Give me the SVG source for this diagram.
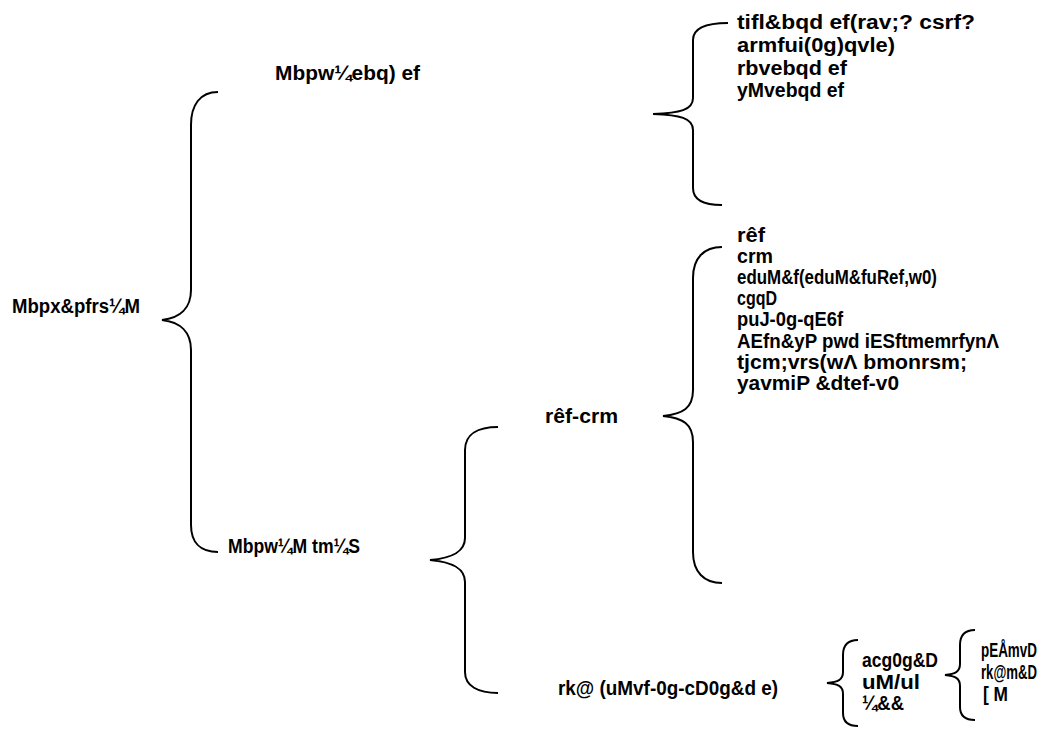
<svg xmlns="http://www.w3.org/2000/svg" width="1047" height="734" viewBox="0 0 1047 734">
<style>
  text { font-family: "Liberation Sans", "DejaVu Sans", sans-serif; font-size: 20px; font-weight: bold; fill: #000; }
  .brace { fill: none; stroke: #000; stroke-width: 2; }
</style>
<rect width="1047" height="734" fill="#fff"/>
<g id="connectors">
  <path class="brace" d="M 218 92 C 200 92 191 105 191 125 L 191 290 C 191 308 180 318 162 320 C 180 322 191 332 191 350 L 191 525 C 191 542 200 552 218 552"/>
  <path class="brace" d="M 498 427 C 478 427 465 434 465 450 L 465 538 C 465 552 452 558 430 560 C 452 562 465 568 465 582 L 465 672 C 465 686 478 693 498 693"/>
  <path class="brace" d="M 728 23 C 705 23 693 28 693 40 L 693 98 C 693 110 680 113 653 114 C 680 115 693 118 693 130 L 693 188 C 693 200 705 205 722 205"/>
  <path class="brace" d="M 722 247 C 704 247 693 258 693 278 L 693 390 C 693 408 683 414 663 416 C 683 418 693 424 693 442 L 693 552 C 693 572 704 583 722 583"/>
  <path class="brace" d="M 858 640 C 848 640 843 645 843 655 L 843 672 C 843 680 838 682 827 683 C 838 684 843 686 843 694 L 843 713 C 843 722 848 726 858 726"/>
  <path class="brace" d="M 975 630 C 965 630 960 635 960 645 L 960 664 C 960 672 955 674 945 675 C 955 676 960 678 960 686 L 960 707 C 960 716 965 720 975 720"/>
</g>
<g id="n-root"><text x="12" y="313" textLength="128" lengthAdjust="spacingAndGlyphs">Mbpx&amp;pfrs¼M</text></g>
<g id="n-a"><text x="275" y="80" textLength="145" lengthAdjust="spacingAndGlyphs">Mbpw¼ebq) ef</text></g>
<g id="n-b"><text x="228" y="553" textLength="132" lengthAdjust="spacingAndGlyphs">Mbpw¼M tm¼S</text></g>
<g id="n-a-list">
  <text x="737" y="29" textLength="238" lengthAdjust="spacingAndGlyphs">tifl&amp;bqd ef(rav;? csrf?</text>
  <text x="737" y="52" textLength="158" lengthAdjust="spacingAndGlyphs">armfui(0g)qvle)</text>
  <text x="737" y="75" textLength="110" lengthAdjust="spacingAndGlyphs">rbvebqd ef</text>
  <text x="737" y="97" textLength="107" lengthAdjust="spacingAndGlyphs">yMvebqd ef</text>
</g>
<g id="n-c"><text x="545" y="423" textLength="73" lengthAdjust="spacingAndGlyphs">rêf-crm</text></g>
<g id="n-c-list">
  <text x="737" y="242" textLength="28" lengthAdjust="spacingAndGlyphs">rêf</text>
  <text x="737" y="263" textLength="36" lengthAdjust="spacingAndGlyphs">crm</text>
  <text x="737" y="284" textLength="200" lengthAdjust="spacingAndGlyphs">eduM&amp;f(eduM&amp;fuRef,w0)</text>
  <text x="737" y="305" textLength="40" lengthAdjust="spacingAndGlyphs">cgqD</text>
  <text x="737" y="326" textLength="106" lengthAdjust="spacingAndGlyphs">puJ-0g-qE6f</text>
  <text x="737" y="348" textLength="262" lengthAdjust="spacingAndGlyphs">AEfn&amp;yP pwd iESftmemrfynΛ</text>
  <text x="737" y="369" textLength="230" lengthAdjust="spacingAndGlyphs">tjcm;vrs(wΛ bmonrsm;</text>
  <text x="737" y="390" textLength="162" lengthAdjust="spacingAndGlyphs">yavmiP &amp;dtef-v0</text>
</g>
<g id="n-d"><text x="558" y="695" textLength="220" lengthAdjust="spacingAndGlyphs">rk@ (uMvf-0g-cD0g&amp;d e)</text></g>
<g id="n-d-list">
  <text x="862" y="667" textLength="76" lengthAdjust="spacingAndGlyphs">acg0g&amp;D</text>
  <text x="862" y="689" textLength="58" lengthAdjust="spacingAndGlyphs">uM/ul</text>
  <text x="862" y="710" textLength="42" lengthAdjust="spacingAndGlyphs">¼&amp;&amp;</text>
</g>
<g id="n-e-list">
  <text x="981" y="657" textLength="56" lengthAdjust="spacingAndGlyphs">pEÅmvD</text>
  <text x="981" y="679" textLength="56" lengthAdjust="spacingAndGlyphs">rk@m&amp;D</text>
  <text x="983" y="701" textLength="25" lengthAdjust="spacingAndGlyphs">[ M</text>
</g>
</svg>
